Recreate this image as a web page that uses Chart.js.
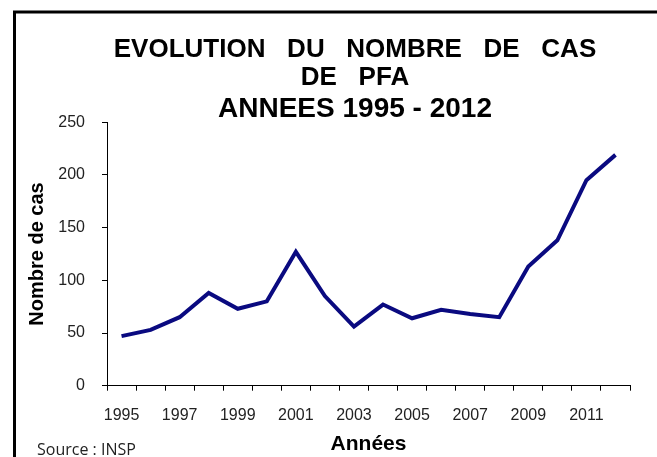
<!DOCTYPE html>
<html>
<head>
<meta charset="utf-8">
<script src="https://cdn.jsdelivr.net/npm/chart.js@4.4.1/dist/chart.umd.min.js"></script>
<style>
html, body { margin: 0; padding: 0; background: #fff; }
#cadre { width: 657px; height: 457px; position: relative; }
</style>
</head>
<body>
<div id="cadre"><canvas id="grafico" width="657" height="457"></canvas></div>
<script>
// données
const annees = ['1995', '1996', '1997', '1998', '1999', '2000', '2001', '2002', '2003',
                '2004', '2005', '2006', '2007', '2008', '2009', '2010', '2011', '2012'];
const nombreCas = [47, 53, 65, 88, 73, 80, 127, 85, 56, 77, 64, 72, 68, 65, 113, 138, 195, 219];
const ticksY = [0, 50, 100, 150, 200, 250];

const titre = ['EVOLUTION   DU   NOMBRE   DE   CAS', 'DE   PFA'];
const sousTitre = 'ANNEES 1995 - 2012';
const source = 'Source : INSP';

const police = '"Liberation Sans", Arial, sans-serif';

// cadre noir (haut + gauche) et mention de la source
const cadrePlugin = {
    id: 'cadre',
    afterDraw(chart) {
        const ctx = chart.ctx;
        ctx.save();
        ctx.strokeStyle = '#000';
        ctx.lineWidth = 3;
        ctx.beginPath();
        ctx.moveTo(14.5, 457);
        ctx.lineTo(14.5, 12);
        ctx.lineTo(657, 12);
        ctx.stroke();
        ctx.fillStyle = '#222';
        ctx.font = '16px "Open Sans", sans-serif';
        ctx.textBaseline = 'middle';
        ctx.fillText(source, 37, 450);
        ctx.restore();
    }
};

const ctx = document.getElementById('grafico').getContext('2d');
new Chart(ctx, {
    type: 'line',
    data: {
        labels: annees,
        datasets: [{
            data: nombreCas,
            borderColor: '#0a0a80',
            borderWidth: 4,
            pointRadius: 0,
            tension: 0,
            fill: false
        }]
    },
    options: {
        responsive: false,
        animation: false,
        devicePixelRatio: 1,
        layout: { padding: { left: 53, right: 0, top: 0, bottom: 0 } },
        plugins: {
            legend: { display: false },
            tooltip: { enabled: false },
            title: {
                display: true,
                text: titre,
                color: '#000',
                font: { family: police, size: 26, weight: 'bold', lineHeight: 1.077 },
                padding: { top: 36, bottom: 0 }
            },
            subtitle: {
                display: true,
                text: sousTitre,
                color: '#000',
                font: { family: police, size: 28, weight: 'bold', lineHeight: 0.9 },
                padding: { top: 5, bottom: 0 }
            }
        },
        scales: {
            x: {
                type: 'category',
                offset: true,
                afterFit: (axis) => { axis.height = 71.3; },
                grid: { offset: true, drawOnChartArea: false, drawTicks: true, tickLength: 5, color: '#000' },
                border: { display: true, color: '#000', width: 1 },
                ticks: {
                    autoSkip: false,
                    maxRotation: 0,
                    padding: 15,
                    color: '#222',
                    font: { family: police, size: 16 },
                    callback: function (value, index) {
                        return index % 2 === 0 ? this.getLabelForValue(value) : '';
                    }
                },
                title: {
                    display: true,
                    text: 'Années',
                    color: '#000',
                    font: { family: police, size: 21, weight: 'bold' },
                    padding: { top: 0, bottom: 0 }
                }
            },
            y: {
                min: 0,
                max: 250,
                afterFit: (axis) => { axis.width = 54; },
                afterBuildTicks: (axis) => { axis.ticks = ticksY.map(v => ({ value: v })); },
                grid: { drawOnChartArea: false, drawTicks: true, tickLength: 5, color: '#000' },
                border: { display: true, color: '#000', width: 1 },
                ticks: {
                    padding: 17,
                    color: '#222',
                    font: { family: police, size: 16 }
                },
                title: {
                    display: true,
                    text: 'Nombre de cas',
                    color: '#000',
                    font: { family: police, size: 20, weight: 'bold' },
                    padding: { top: -28, bottom: 0 }
                }
            },
            // marge droite (axe vide) pour centrer le titre comme dans l'original
            marge: {
                type: 'linear',
                position: 'right',
                display: true,
                afterFit: (axis) => { axis.width = 27; },
                grid: { display: false },
                border: { display: false },
                ticks: { display: false }
            }
        }
    },
    plugins: [cadrePlugin]
});
</script>
</body>
</html>
